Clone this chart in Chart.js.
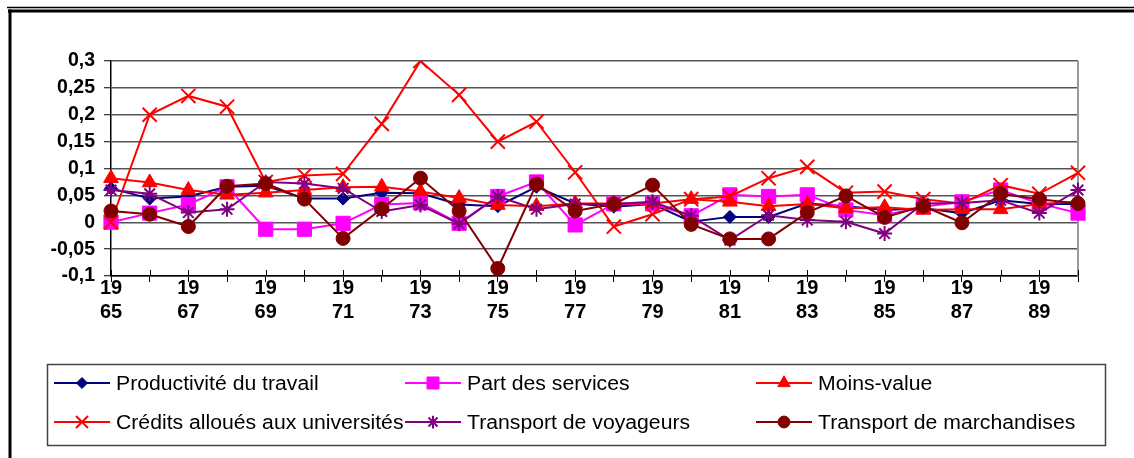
<!DOCTYPE html>
<html>
<head>
<meta charset="utf-8">
<script src="https://cdn.jsdelivr.net/npm/chart.js@4.4.1/dist/chart.umd.min.js"></script>
<style>
  html, body { margin: 0; padding: 0; background: #fff; }
  #wrap { position: relative; width: 1134px; height: 458px; }
</style>
</head>
<body>
<div id="wrap"><canvas id="c" width="1134" height="458"></canvas></div>
<script>
const years = [1965,1966,1967,1968,1969,1970,1971,1972,1973,1974,1975,1976,1977,1978,1979,1980,1981,1982,1983,1984,1985,1986,1987,1988,1989,1990];
const yTickValues = [-0.1,-0.05,0,0.05,0.1,0.15,0.2,0.25,0.3];

const productivite = [0.063,0.044,0.048,0.066,0.068,0.044,0.044,0.055,0.054,0.033,0.030,0.066,0.035,0.029,0.034,0.001,0.010,0.010,0.035,0.030,0.023,0.026,0.017,0.041,0.034,0.034];
const services     = [0.000,0.017,0.033,0.066,-0.013,-0.013,-0.002,0.033,0.036,-0.002,0.048,0.075,-0.005,0.034,0.034,0.012,0.051,0.048,0.051,0.023,0.013,0.029,0.038,0.060,0.035,0.017];
const moinsValue   = [0.082,0.074,0.060,0.051,0.055,0.060,0.065,0.066,0.057,0.045,0.032,0.030,0.035,0.035,0.035,0.043,0.038,0.030,0.034,0.026,0.028,0.023,0.024,0.024,0.034,0.038];
const credits      = [0.000,0.200,0.235,0.215,0.075,0.087,0.090,0.183,0.300,0.237,0.150,0.187,0.093,-0.008,0.015,0.043,0.048,0.082,0.103,0.055,0.057,0.043,0.035,0.069,0.053,0.092];
const voyageurs    = [0.060,0.053,0.018,0.024,0.075,0.072,0.063,0.020,0.032,-0.003,0.048,0.024,0.034,0.034,0.038,0.012,-0.033,0.013,0.004,0.001,-0.021,0.035,0.036,0.041,0.017,0.060];
const marchandises = [0.021,0.015,-0.008,0.067,0.072,0.043,-0.030,0.025,0.082,0.021,-0.086,0.071,0.021,0.034,0.069,-0.004,-0.031,-0.031,0.018,0.049,0.009,0.030,-0.001,0.053,0.043,0.035];

const seriesNames = ['Productivité du travail','Part des services','Moins-value','Crédits alloués aux universités','Transport de voyageurs','Transport de marchandises'];
const seriesData = [productivite, services, moinsValue, credits, voyageurs, marchandises];
const seriesColors = ['#000080','#FF00FF','#FF0000','#FF0000','#800080','#800000'];
const seriesStyles = ['rectRot','rect','triangle','crossRot','star','circle'];
const seriesRadius = [6.5,10,8.5,10,7.5,7];

const datasets = seriesNames.map((name, i) => ({
  label: name,
  data: seriesData[i],
  borderColor: seriesColors[i],
  backgroundColor: seriesColors[i],
  pointBackgroundColor: seriesColors[i],
  pointBorderColor: seriesColors[i],
  pointStyle: seriesStyles[i],
  pointRadius: seriesRadius[i],
  pointHoverRadius: seriesRadius[i],
  pointBorderWidth: (seriesStyles[i] === 'crossRot' || seriesStyles[i] === 'star') ? 2 : 1,
  borderWidth: 2,
  tension: 0,
  fill: false,
  order: 5 - i
}));

const frame = {
  id: 'frame',
  beforeDraw(chart) {
    const ctx = chart.ctx;
    ctx.save();
    ctx.strokeStyle = '#000';
    ctx.lineWidth = 1.5;
    ctx.beginPath(); ctx.moveTo(7, 7.5); ctx.lineTo(1134, 7.5); ctx.stroke();
    ctx.lineWidth = 3;
    ctx.beginPath(); ctx.moveTo(8, 11); ctx.lineTo(1134, 11); ctx.stroke();
    ctx.beginPath(); ctx.moveTo(10, 9.5); ctx.lineTo(10, 458); ctx.stroke();
    ctx.restore();
  },
  beforeDatasetsDraw(chart) {
    const ctx = chart.ctx, a = chart.chartArea;
    ctx.save();
    ctx.strokeStyle = '#999';
    ctx.lineWidth = 2;
    ctx.beginPath(); ctx.moveTo(a.right, a.top); ctx.lineTo(a.right, a.bottom); ctx.stroke();
    ctx.strokeStyle = '#000';
    ctx.lineWidth = 1;
    const xs = chart.scales.x;
    for (let i = 0; i < years.length; i++) {
      const x = Math.round(xs.getPixelForValue(i)) + 0.5;
      ctx.beginPath(); ctx.moveTo(x, a.bottom - 6); ctx.lineTo(x, a.bottom); ctx.stroke();
    }
    ctx.restore();
  }
};

const customLegend = {
  id: 'customLegend',
  afterDraw(chart) {
    const ctx = chart.ctx;
    ctx.save();
    ctx.strokeStyle = '#444';
    ctx.lineWidth = 1.5;
    ctx.strokeRect(47.5, 364.5, 1058, 81);
    const cols = [54, 405, 756];
    const rows = [383, 422];
    ctx.font = '20px "Liberation Sans", Arial, sans-serif';
    ctx.textBaseline = 'middle';
    ctx.textAlign = 'left';
    seriesNames.forEach((name, i) => {
      const lx = cols[i % 3], ly = rows[Math.floor(i / 3)];
      ctx.strokeStyle = seriesColors[i];
      ctx.fillStyle = seriesColors[i];
      ctx.lineWidth = 2;
      ctx.beginPath(); ctx.moveTo(lx, ly); ctx.lineTo(lx + 56, ly); ctx.stroke();
      ctx.lineWidth = (seriesStyles[i] === 'crossRot' || seriesStyles[i] === 'star') ? 2 : 1;
      Chart.helpers.drawPoint(ctx, {pointStyle: seriesStyles[i], radius: seriesRadius[i] * 0.85, rotation: 0, borderWidth: ctx.lineWidth}, lx + 28, ly);
      ctx.fillStyle = '#000';
      ctx.save();
      ctx.translate(lx + 62, ly + 1);
      ctx.scale(1.06, 1);
      ctx.fillText(name, 0, 0);
      ctx.restore();
    });
    ctx.restore();
  }
};

new Chart(document.getElementById('c'), {
  type: 'line',
  data: { labels: years.map(String), datasets },
  options: {
    responsive: false,
    animation: false,
    events: [],
    layout: { padding: { left: 0, top: 61, right: 56, bottom: 122 } },
    plugins: { legend: { display: false }, tooltip: { enabled: false }, title: { display: false } },
    scales: {
      x: {
        type: 'category',
        offset: false,
        afterFit(scale) { scale.height = 60; },
        grid: { display: true, drawOnChartArea: false, drawTicks: true, tickLength: 6, tickColor: '#000', tickWidth: 1 },
        border: { display: true, color: '#000', width: 1.5 },
        ticks: {
          autoSkip: false, maxRotation: 0, minRotation: 0, padding: -5,
          color: '#000',
          font: { family: '"Liberation Sans", Arial, sans-serif', size: 20, weight: 'bold', lineHeight: 1.18 },
          callback(v, i) { return i % 2 === 0 ? ['19', String(years[i]).slice(2)] : ''; }
        }
      },
      y: {
        min: -0.1, max: 0.3,
        afterFit(scale) { scale.width = 111; },
        afterBuildTicks(scale) { scale.ticks = yTickValues.map(v => ({ value: v })); },
        grid: { color: '#555', lineWidth: 1.5, drawTicks: true, tickLength: 7, tickColor: '#000', tickWidth: 1 },
        border: { display: true, color: '#000', width: 1.5 },
        ticks: {
          padding: 9, color: '#000',
          font: { family: '"Liberation Sans", Arial, sans-serif', size: 19.5, weight: 'bold' },
          callback(v) { const n = Math.round(v * 100) / 100; return n === 0 ? '0' : String(n).replace('.', ','); }
        }
      }
    }
  },
  plugins: [frame, customLegend]
});
</script>
</body>
</html>
